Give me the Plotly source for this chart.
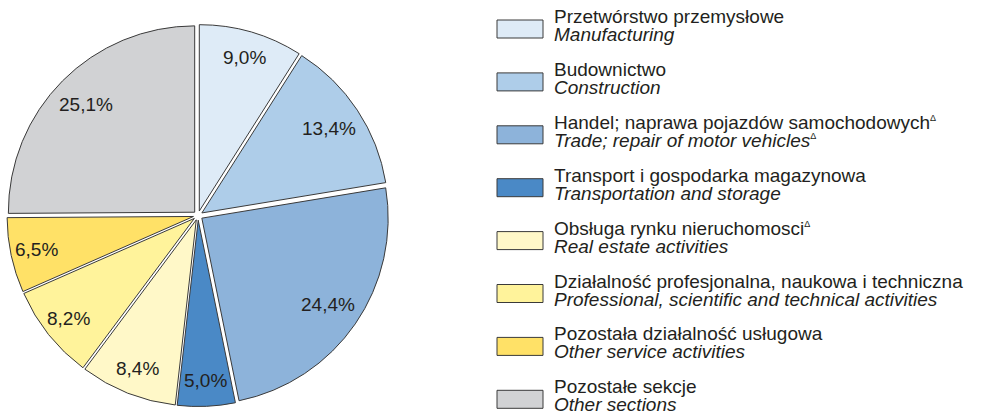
import math
import plotly.graph_objects as go

# Dane
labels_pl = [
    'Przetwórstwo przemysłowe',
    'Budownictwo',
    'Handel; naprawa pojazdów samochodowych',
    'Transport i gospodarka magazynowa',
    'Obsługa rynku nieruchomosci',
    'Działalność profesjonalna, naukowa i techniczna',
    'Pozostała działalność usługowa',
    'Pozostałe sekcje',
]
labels_en = [
    'Manufacturing',
    'Construction',
    'Trade; repair of motor vehicles',
    'Transportation and storage',
    'Real estate activities',
    'Professional, scientific and technical activities',
    'Other service activities',
    'Other sections',
]
delta_pl = [False, False, True, False, True, False, False, False]
delta_en = [False, False, True, False, False, False, False, False]
values = [9.0, 13.4, 24.4, 5.0, 8.4, 8.2, 6.5, 25.1]
colors = ['#deebf7', '#aecde9', '#8db3da', '#4a89c6',
          '#fff8c8', '#fff39b', '#ffe167', '#d1d2d4']

texts = [f'{v:.1f}%'.replace('.', ',') for v in values]
W, H = 996, 417
FONT = 'Liberation Sans, Arial, sans-serif'
TXT = '#231f20'
SUP = '<sup><span style="font-size:9px">Δ</span></sup>'

# obszar koła (piksele)
PX0, PX1, PY0, PY1 = 7, 389, 24, 407
PULL = 0.025

fig = go.Figure()
fig.add_trace(go.Pie(
    labels=labels_en, values=values, text=texts,
    textinfo='none',
    marker=dict(colors=colors, line=dict(color='#3a3a3a', width=1)),
    sort=False, direction='clockwise', rotation=0,
    pull=[PULL] * len(values),
    domain=dict(x=[PX0 / W, PX1 / W], y=[1 - PY1 / H, 1 - PY0 / H]),
    showlegend=False, hoverinfo='label+percent',
))

# Etykiety procentowe - pozycja wyliczona z kąta środka wycinka
cx, cy = (PX0 + PX1) / 2, (PY0 + PY1) / 2
r = min(PX1 - PX0, PY1 - PY0) / 2 / (1 + PULL)
annotations = []
total = sum(values)
cum = 0
for v, t in zip(values, texts):
    ang = 2 * math.pi * (cum + v / 2) / total
    cum += v
    rr = r * (0.82 + PULL) if v > 10 else r * (0.86 + PULL)
    annotations.append(dict(
        x=(cx + rr * math.sin(ang)) / W, y=1 - (cy - rr * math.cos(ang)) / H,
        xref='paper', yref='paper', text=t, showarrow=False,
        xanchor='center', yanchor='middle',
        font=dict(family=FONT, size=19, color=TXT)))

# Legenda
shapes = []
for i, (pl, en, c) in enumerate(zip(labels_pl, labels_en, colors)):
    yc = 29 + i * 52.9
    shapes.append(dict(type='rect', xref='paper', yref='paper',
                       x0=497 / W, x1=543 / W,
                       y0=1 - (yc - 9) / H, y1=1 - (yc + 9) / H,
                       fillcolor=c, line=dict(color='#3a3a3a', width=1)))
    annotations.append(dict(x=552 / W, y=1 - (yc - 12.5) / H, xref='paper', yref='paper',
                            text=pl + (SUP if delta_pl[i] else ''), showarrow=False,
                            xanchor='left', yanchor='middle',
                            font=dict(family=FONT, size=19, color=TXT)))
    annotations.append(dict(x=552 / W, y=1 - (yc + 5.5) / H, xref='paper', yref='paper',
                            text='<i>' + en + '</i>' + (SUP if delta_en[i] else ''),
                            showarrow=False, xanchor='left', yanchor='middle',
                            font=dict(family=FONT, size=19, color=TXT)))

fig.update_layout(
    width=W, height=H,
    margin=dict(l=0, r=0, t=0, b=0),
    paper_bgcolor='white', plot_bgcolor='white',
    shapes=shapes, annotations=annotations,
)

fig.write_html('out.html', config={'displayModeBar': False},
               post_script="document.body.style.margin='0';")
